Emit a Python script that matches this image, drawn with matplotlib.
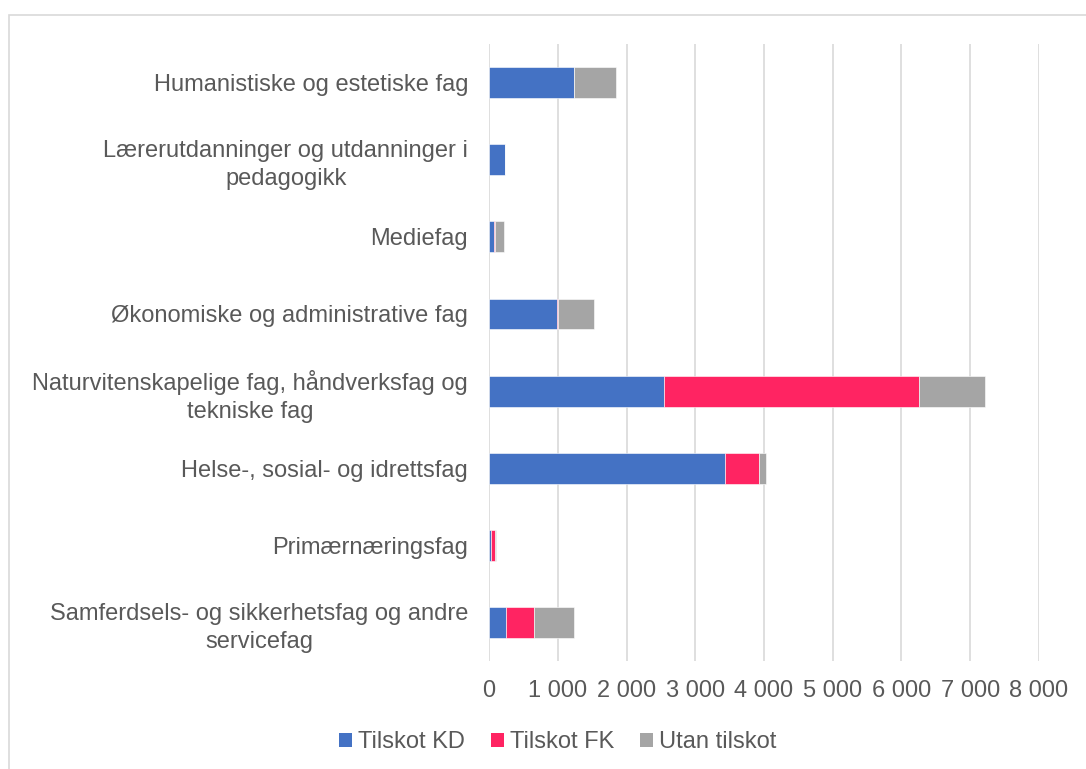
import numpy as np
import matplotlib.pyplot as plt
from matplotlib.patches import Patch, Rectangle
from matplotlib.ticker import FuncFormatter, MultipleLocator

plt.rcParams['font.family'] = ['Liberation Sans', 'DejaVu Sans']

# Fagområde (ovanfrå og ned)
fagomraade = [
    "Humanistiske og estetiske fag",
    "Lærerutdanninger og utdanninger i\npedagogikk",
    "Mediefag",
    "Økonomiske og administrative fag",
    "Naturvitenskapelige fag, håndverksfag og\ntekniske fag",
    "Helse-, sosial- og idrettsfag",
    "Primærnæringsfag",
    "Samferdsels- og sikkerhetsfag og andre\nservicefag",
]

tilskot_kd = [1240, 237, 75, 990, 2540, 3430, 35, 250]
tilskot_fk = [0, 0, 10, 15, 3720, 490, 45, 410]
utan_tilskot = [607, 0, 140, 525, 960, 110, 15, 570]

serienamn = ["Tilskot KD", "Tilskot FK", "Utan tilskot"]
fargar = ["#4472C4", "#FF2462", "#A5A5A5"]
tekstfarge = "#595959"
gridfarge = "#D9D9D9"
fs = 17

fig = plt.figure(figsize=(10.86, 7.69), dpi=100)
ax = fig.add_axes([0.4503, 0.1404, 0.5064, 0.8024])

y = np.arange(len(fagomraade))
venstre = np.zeros(len(fagomraade))
for verdiar, farge in zip([tilskot_kd, tilskot_fk, utan_tilskot], fargar):
    ax.barh(y, verdiar, left=venstre, height=0.4, color=farge,
            edgecolor="white", linewidth=0.4, zorder=3)
    venstre += np.array(verdiar)

ax.set_ylim(len(fagomraade) - 0.5, -0.5)
ax.set_xlim(0, 8000)
ax.xaxis.set_major_locator(MultipleLocator(1000))
ax.xaxis.set_major_formatter(FuncFormatter(lambda v, p: f"{int(v):,}".replace(",", " ")))
ax.grid(axis="x", color=gridfarge, linewidth=1.2, zorder=0)
ax.set_axisbelow(True)

for s in ax.spines.values():
    s.set_visible(False)

ax.set_yticks(y)
ax.set_yticklabels(fagomraade, fontsize=fs, color=tekstfarge, linespacing=1.35)
for lbl in ax.get_yticklabels():
    lbl.set_multialignment("center")
ax.tick_params(axis="y", length=0, pad=15)
ax.tick_params(axis="x", length=0, pad=14, labelsize=fs, labelcolor=tekstfarge)

# Ramme rundt diagrammet
fig.add_artist(Rectangle((9 / 1086, -0.2), 1.2, 1.2 - 14.5 / 769,
                         transform=fig.transFigure, fill=False,
                         edgecolor=gridfarge, linewidth=1.2))

handles = [Patch(facecolor=f, edgecolor="none") for f in fargar]
fig.legend(handles, serienamn, loc="center", bbox_to_anchor=(558 / 1086, 1 - 742 / 769),
           ncol=3, frameon=False, fontsize=fs, labelcolor=tekstfarge,
           handlelength=0.55, handleheight=0.55, handletextpad=0.25, columnspacing=1.1)

fig.savefig("out.png", dpi=100)
